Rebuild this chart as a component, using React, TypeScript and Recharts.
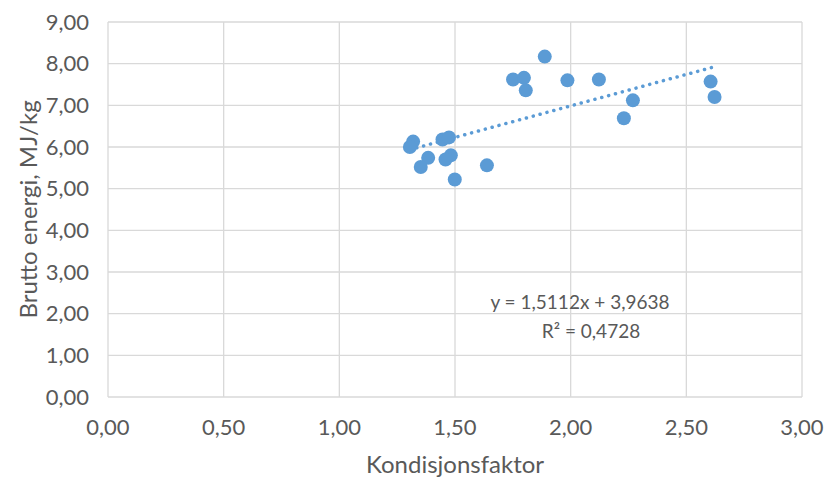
import { CartesianGrid, Scatter, ScatterChart, XAxis, YAxis } from "recharts"

// Kondisjonsfaktor (x) vs Brutto energi MJ/kg (y)
const kondisjon = [
  1.888, 1.751, 1.798, 1.806, 1.986, 1.319, 1.305, 1.384, 1.352, 1.446,
  1.474, 1.482, 1.459, 1.499, 1.638, 2.122, 2.269, 2.23, 2.605, 2.622,
]
const energi = [
  8.17, 7.62, 7.66, 7.36, 7.6, 6.13, 6.0, 5.74, 5.52, 6.18,
  6.23, 5.8, 5.7, 5.22, 5.56, 7.62, 7.12, 6.69, 7.57, 7.2,
]

// linear trendline reported on the chart
const slope = 1.5112
const intercept = 3.9638
const rSquared = 0.4728

const xTicks = [0, 0.5, 1, 1.5, 2, 2.5, 3]
const yTicks = [0, 1, 2, 3, 4, 5, 6, 7, 8, 9]

const points = kondisjon.map((x, i) => ({ x, y: energi[i] }))
const xMin = Math.min(...kondisjon)
const xMax = Math.max(...kondisjon)
const trend = [
  { x: xMin, y: slope * xMin + intercept },
  { x: xMax, y: slope * xMax + intercept },
]

const BLUE = "#5B9BD5"
const TEXT = "#595959"
const FONT = "Lato, 'Open Sans', sans-serif"

const fmt = (v: number) => v.toFixed(2).replace(".", ",")
const fmt4 = (v: number) => v.toFixed(4).replace(".", ",")

export default function App() {
  return (
    <div style={{ position: "absolute", left: 0, top: 0, width: 828, height: 479, background: "#fff", fontFamily: FONT }}>
      <ScatterChart width={828} height={479} margin={{ top: 22, right: 26, bottom: 0, left: 0 }}>
        <CartesianGrid stroke="#d9d9d9" strokeWidth={1.3} />
        <XAxis
          type="number"
          dataKey="x"
          domain={[0, 3]}
          ticks={xTicks}
          tickFormatter={fmt}
          axisLine={false}
          tickLine={false}
          tickSize={0}
          tickMargin={22}
          height={82}
          tick={{ fill: TEXT, fontSize: 22, fontFamily: FONT }}
          label={{ value: "Kondisjonsfaktor", position: "insideBottom", offset: 6, fill: TEXT, fontSize: 24, fontFamily: FONT }}
        />
        <YAxis
          type="number"
          dataKey="y"
          domain={[0, 9]}
          ticks={yTicks}
          tickFormatter={fmt}
          axisLine={false}
          tickLine={false}
          tickSize={0}
          tickMargin={19}
          width={108}
          tick={{ fill: TEXT, fontSize: 22, fontFamily: FONT }}
          label={{
            value: "Brutto energi, MJ/kg",
            angle: -90,
            position: "insideLeft",
            offset: 28,
            fill: TEXT,
            fontSize: 24,
            fontFamily: FONT,
            style: { textAnchor: "middle" },
          }}
        />
        <Scatter
          data={trend}
          line={{ stroke: BLUE, strokeWidth: 3.5, strokeDasharray: "0.1 7", strokeLinecap: "round" }}
          shape={() => <g />}
          isAnimationActive={false}
        />
        <Scatter
          data={points}
          fill={BLUE}
          shape={(p: any) => <circle cx={p.cx} cy={p.cy} r={7} fill={BLUE} />}
          isAnimationActive={false}
        />
      </ScatterChart>
      <div style={{ position: "absolute", left: 480, top: 289, width: 200, textAlign: "center", color: TEXT, fontSize: 19, lineHeight: "26px", whiteSpace: "nowrap" }}>
        y = {fmt4(slope)}x + {fmt4(intercept)}
      </div>
      <div style={{ position: "absolute", left: 491, top: 318, width: 200, textAlign: "center", color: TEXT, fontSize: 19, lineHeight: "26px", whiteSpace: "nowrap" }}>
        R² = {fmt4(rSquared)}
      </div>
    </div>
  )
}
